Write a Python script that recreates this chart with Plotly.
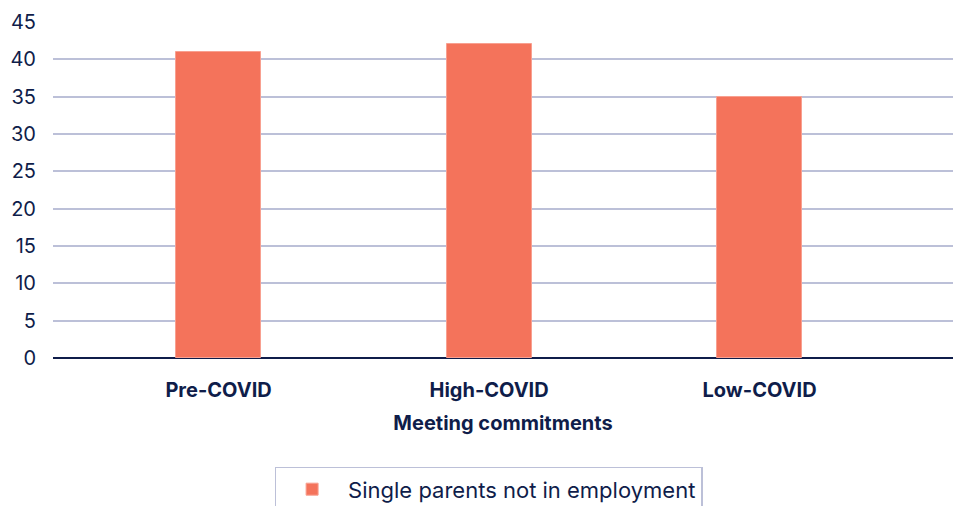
import plotly.graph_objects as go

categories = ["Pre-COVID", "High-COVID", "Low-COVID"]
values = [41, 42, 35]
series_name = "Single parents not in employment"
y_ticks = [0, 5, 10, 15, 20, 25, 30, 35, 40, 45]

navy = "#0f1d4a"
bar_color = "#f4735b"
grid_color = "#bcc0d8"
font_family = "Inter, Roboto, sans-serif"

fig = go.Figure()
fig.add_trace(go.Bar(
    x=list(range(len(categories))),
    y=values,
    name=series_name,
    width=0.314,
    marker=dict(color=bar_color, line=dict(color="#f8a090", width=1)),
    showlegend=True,
))

fig.update_layout(
    width=953, height=506,
    margin=dict(l=53, r=0, t=22, b=148, autoexpand=False),
    paper_bgcolor="white", plot_bgcolor="white",
    font=dict(family=font_family, color=navy, size=19),
    xaxis=dict(
        range=[-0.612, 2.715],
        tickmode="array",
        tickvals=list(range(len(categories))),
        ticktext=[f"<b>{c}</b>" for c in categories],
        tickfont=dict(size=20, color=navy),
        showgrid=False,
        showline=False,
        zeroline=False,
        ticks="outside", ticklen=14, tickcolor="rgba(0,0,0,0)",
        title=dict(text="<b>Meeting commitments</b>", font=dict(size=20, color=navy), standoff=14),
    ),
    yaxis=dict(
        range=[0, 45],
        tickmode="array",
        tickvals=y_ticks,
        showgrid=True, gridcolor=grid_color, gridwidth=1.5,
        zeroline=True, zerolinecolor=navy, zerolinewidth=1.5,
        tickfont=dict(size=20, color=navy),
        ticks="outside", ticklen=12, tickcolor="rgba(0,0,0,0)",
    ),
    legend=dict(
        orientation="h",
        x=0.484, xanchor="center",
        y=-0.324, yanchor="top",
        bordercolor=grid_color, borderwidth=1.5,
        font=dict(size=22, color=navy),
        itemwidth=62,
    ),
    bargap=0,
)

fig.write_html("out.html")
